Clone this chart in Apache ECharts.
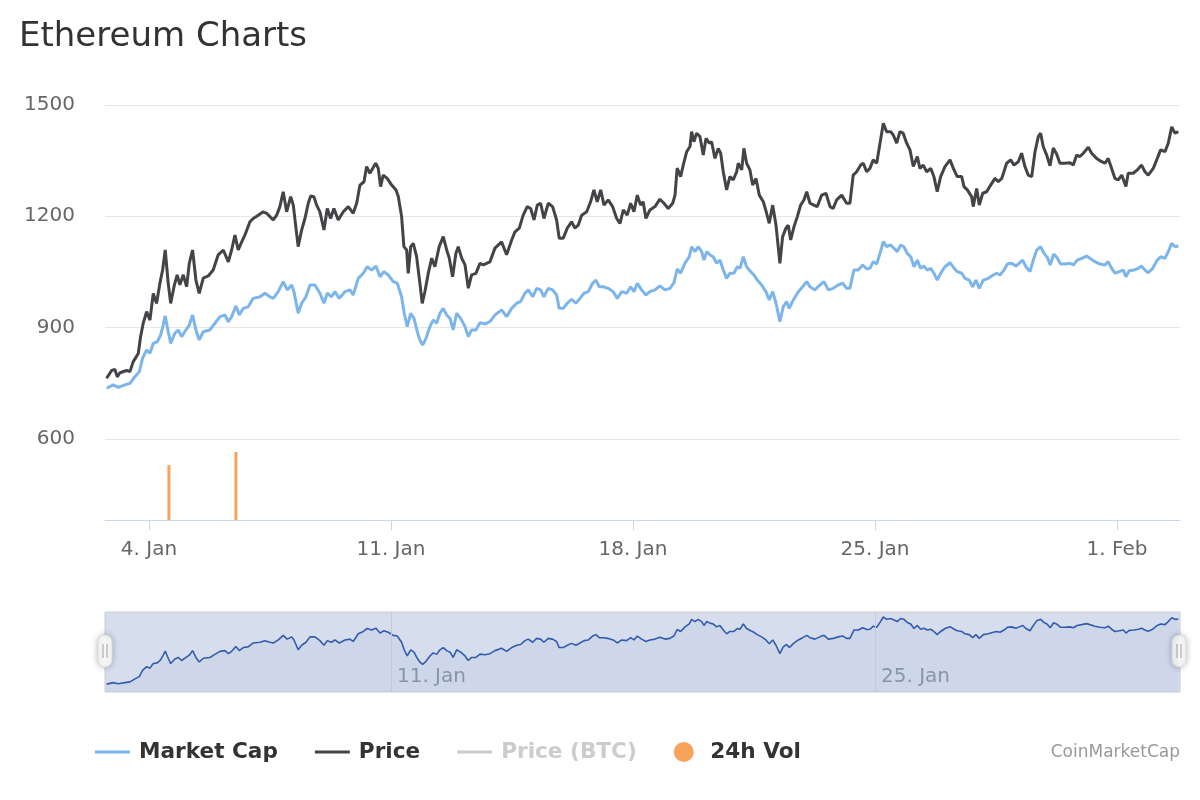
<!DOCTYPE html>
<html><head><meta charset="utf-8">
<script src="https://cdn.jsdelivr.net/npm/echarts@6/dist/echarts.min.js"></script>
<style>html,body{margin:0;padding:0;background:#fff}#chart{width:1200px;height:800px}</style>
</head><body><div id="chart"></div>
<script>
// Hours relative to 4 Jan 2018 00:00 UTC
const priceHours = [
-29.4,-25.9,-23.6,-22.0,-20.1,-15.5,-13.2,-10.9,-7.4,-5.8,
-4.0,-1.6,0.7,3.0,5.3,7.6,9.5,11.3,13.4,15.1,
17.4,19.6,21.5,23.8,26.2,28.0,30.3,32.6,34.9,37.7,
41.2,44.6,48.1,51.6,55.1,57.4,59.7,62.0,64.4,66.6,
70.1,72.4,75.9,79.3,81.7,84.0,86.3,88.7,90.9,93.2,
95.6,98.4,100.2,103.6,106.0,108.3,110.6,112.3,114.5,116.4,
118.7,121.5,123.8,126.1,128.4,131.4,134.9,138.4,141.8,144.2,
146.5,149.3,151.1,153.4,155.3,157.4,159.2,160.8,162.6,165.4,
168.5,171.5,173.1,175.4,177.0,178.9,180.0,181.7,183.5,185.8,
188.1,189.7,191.6,193.9,196.3,198.5,201.5,204.3,206.7,208.5,
210.8,213.1,214.7,217.1,219.4,221.7,224.0,227.0,229.8,232.1,
236.7,240.2,244.8,248.3,251.8,254.1,257.1,259.8,262.6,265.0,
267.3,269.6,271.9,274.2,277.2,280.2,283.0,284.8,287.6,290.4,
293.4,295.7,298.0,300.4,303.9,306.6,308.9,311.2,313.6,315.9,
318.8,321.9,324.7,327.0,329.3,332.0,334.4,336.7,339.0,341.3,
343.1,345.0,347.8,351.3,354.7,357.5,360.5,363.6,365.2,366.7,
369.1,370.9,373.3,375.6,376.7,378.3,380.2,382.5,384.8,386.7,
389.0,390.6,392.9,395.2,396.9,398.7,401.0,403.3,405.6,408.0,
409.1,411.5,413.0,414.9,417.2,419.1,421.4,423.7,426.5,428.8,
430.6,433.0,435.3,438.0,439.9,442.2,443.8,445.5,447.8,450.1,
452.4,454.7,456.6,458.9,461.6,463.9,467.0,470.0,472.8,475.0,
477.4,480.9,484.3,486.6,488.9,491.3,494.1,495.9,498.2,500.5,
502.8,505.2,507.5,509.8,512.1,514.9,516.7,519.1,521.3,523.6,
526.0,528.3,530.6,533.4,535.2,537.5,539.9,542.7,544.9,547.2,
549.6,552.6,556.1,558.4,561.1,564.2,565.8,568.1,571.1,572.2,
574.6,576.4,578.8,581.5,584.3,587.3,589.6,592.0,595.4,598.2,
600.5,603.5,605.8,608.1,610.4,612.8,615.1,617.4,619.0,620.8,
623.2,625.5,627.8,630.1,632.4,635.9,639.4,641.7,644.0,646.3,
648.6,652.1,654.4,657.9,661.4,663.7,665.9,668.3,670.6,672.9,
675.3,678.2,679.8,683.3,686.1,689.1,691.4,693.7,697.2,700.0,
702.3,705.3,707.6,710.0,712.3,714.6
];
const priceValues = [
763,784,787,767,778,784,781,808,830,875,
911,943,920,992,965,1019,1055,1109,1019,965,
1010,1042,1015,1042,1010,1073,1109,1028,992,1033,
1039,1055,1096,1109,1077,1109,1149,1109,1131,1149,
1185,1194,1203,1212,1208,1199,1190,1203,1226,1266,
1212,1253,1230,1118,1163,1194,1235,1255,1253,1230,
1212,1163,1221,1194,1221,1190,1212,1226,1208,1235,
1284,1293,1334,1316,1329,1343,1329,1280,1311,1302,
1284,1271,1253,1199,1118,1109,1046,1118,1127,1091,
1019,965,997,1046,1087,1064,1118,1145,1109,1087,
1037,1100,1118,1087,1069,1006,1042,1046,1073,1069,
1077,1114,1131,1096,1136,1158,1168,1203,1226,1221,
1190,1230,1235,1194,1235,1226,1190,1141,1141,1168,
1185,1168,1176,1203,1212,1239,1271,1239,1271,1230,
1244,1226,1194,1181,1217,1203,1235,1212,1257,1230,
1239,1194,1217,1226,1246,1235,1221,1235,1257,1330,
1307,1338,1374,1388,1428,1401,1424,1415,1365,1410,
1397,1401,1356,1383,1370,1320,1271,1307,1298,1320,
1343,1325,1383,1343,1325,1284,1302,1257,1239,1208,
1181,1230,1176,1073,1145,1168,1176,1136,1172,1199,
1230,1244,1266,1235,1230,1226,1257,1262,1226,1221,
1244,1257,1235,1235,1311,1320,1338,1343,1320,1329,
1352,1343,1397,1451,1428,1428,1419,1397,1428,1424,
1397,1379,1334,1361,1329,1338,1320,1329,1307,1266,
1307,1334,1352,1329,1307,1307,1280,1271,1253,1226,
1275,1230,1262,1266,1284,1302,1293,1302,1343,1352,
1338,1347,1370,1334,1311,1307,1374,1415,1424,1388,
1365,1336,1384,1368,1343,1343,1344,1338,1365,1361,
1370,1386,1370,1356,1347,1343,1356,1329,1302,1298,
1311,1280,1316,1316,1325,1338,1320,1311,1329,1356,
1379,1374,1397,1441,1424,1428
];
// Market cap, billions USD
const capHours = [
-29.4,-24.8,-21.3,-16.7,-13.2,-9.7,-6.7,-4.4,-1.6,0.7,
3.0,5.8,8.1,9.9,11.3,13.4,15.1,18.0,20.3,22.7,
25.7,28.0,30.3,32.6,34.9,37.7,42.3,45.8,49.3,52.8,
55.1,57.4,60.4,62.7,65.5,68.9,72.4,77.1,80.5,84.0,
86.3,89.8,93.2,96.0,99.1,100.7,103.6,106.0,109.0,111.8,
115.2,118.7,121.5,123.8,126.8,129.1,132.1,136.1,139.5,141.8,
145.3,148.8,151.5,154.6,157.6,160.4,163.1,166.1,169.6,172.4,
175.4,177.2,179.3,181.7,184.0,186.3,188.1,190.0,192.3,195.1,
197.4,199.7,202.0,204.3,206.7,209.0,211.2,213.6,216.4,219.4,
221.7,224.0,227.0,229.8,233.3,236.7,240.2,244.8,248.3,251.8,
255.3,258.0,261.0,263.3,266.4,269.1,271.9,274.2,277.2,280.2,
283.0,284.8,287.6,290.4,293.4,296.4,299.2,302.0,305.0,308.0,
310.3,312.6,315.4,318.8,322.3,325.1,328.2,331.6,334.4,336.7,
339.0,342.0,345.0,347.8,351.3,354.7,358.2,361.7,364.5,366.7,
369.1,372.1,375.1,376.7,379.0,381.3,383.7,385.3,387.2,389.5,
391.7,394.1,396.4,398.7,401.0,403.3,406.1,408.4,410.3,412.6,
414.9,417.7,420.0,422.3,425.3,428.3,430.6,433.0,435.3,438.0,
440.3,442.7,444.5,447.3,450.8,453.8,456.6,458.9,462.3,465.8,
468.6,471.6,475.0,478.5,481.6,484.3,486.6,489.4,492.4,495.5,
498.4,500.5,502.8,505.2,507.5,509.8,512.1,514.9,517.2,519.5,
521.8,524.1,526.4,528.8,531.1,533.4,535.7,538.0,540.3,542.7,
544.9,547.2,549.6,552.6,556.1,558.4,561.1,564.2,566.5,569.4,
571.8,574.1,576.4,579.2,582.7,586.1,588.5,590.8,593.6,595.9,
598.9,601.9,604.2,606.5,608.8,611.6,613.9,616.3,619.0,621.3,
623.6,625.7,628.0,630.3,632.9,635.9,639.4,641.7,644.4,647.5,
650.9,653.2,656.7,660.2,663.7,665.9,668.3,670.6,673.6,676.4,
678.2,680.5,683.8,686.8,689.1,691.4,693.7,696.8,700.0,702.3,
705.3,707.6,710.0,712.3,714.6
];
const capValues = [
72.7,74.2,73.1,74.2,74.9,77.9,80.1,86.2,89.9,88.4,
92.9,93.6,96.6,101.1,105.2,98.1,92.9,97.4,98.9,95.9,
98.9,101.1,105.6,98.9,94.4,98.1,98.9,101.9,104.9,105.6,
102.6,104.9,109.7,105.6,108.6,109.3,113.1,113.8,115.4,113.8,
113.1,116.1,120.6,116.9,119.1,116.0,106.4,110.9,113.8,119.1,
119.1,115.4,110.9,115.4,113.8,116.1,113.1,116.1,116.9,114.6,
122.1,124.4,127.3,125.8,127.6,122.8,125.1,123.6,120.6,119.9,
113.8,106.4,100.4,106.4,104.1,98.1,94.4,92.1,95.1,100.4,
103.4,101.9,106.4,108.6,105.6,104.1,98.9,106.4,104.1,100.4,
95.9,98.9,98.9,102.2,101.6,102.6,105.6,107.9,104.9,108.6,
110.9,111.6,115.4,116.9,113.8,117.6,116.9,113.8,117.6,116.9,
114.6,108.6,108.6,110.9,112.7,110.9,113.1,115.4,116.1,119.9,
121.3,118.3,118.3,117.6,116.1,113.1,116.1,115.4,118.3,116.1,
119.9,116.9,114.6,116.1,116.9,118.7,116.9,117.6,120.2,126.3,
124.4,128.9,131.8,136.3,134.1,136.3,134.1,130.3,134.1,132.6,
131.8,128.9,130.3,125.8,122.1,124.4,124.4,127.3,126.6,131.8,
127.3,125.1,123.6,121.3,119.1,116.1,112.4,116.1,110.9,102.6,
109.3,111.6,108.6,112.4,116.1,118.3,120.6,118.3,116.9,119.1,
120.6,116.9,117.6,119.1,119.9,117.6,117.6,125.8,125.8,128.1,
126.3,126.6,129.6,128.5,133.3,138.6,136.3,137.1,135.6,134.1,
137.1,136.3,133.3,131.8,127.3,130.3,126.6,127.6,125.8,126.6,
124.4,121.3,124.4,127.3,129.1,127.1,125.1,124.4,122.1,121.3,
118.3,121.3,117.6,121.3,122.1,123.6,124.4,123.6,125.8,128.5,
128.9,127.6,128.9,130.3,127.3,125.1,130.3,134.8,136.3,133.3,
131.5,128.1,133.0,131.5,128.5,128.5,128.9,128.1,130.3,131.1,
132.1,131.1,129.6,128.5,128.1,129.6,126.6,124.4,125.1,125.8,
122.8,125.5,125.8,126.6,127.6,125.8,124.6,126.6,130.3,131.8,
131.1,134.1,137.8,136.3,136.6
];
// 24h volume, billions USD
const volHours = [13.9, 60.4];
const volValues = [3.44, 4.25];

const tickDates = ['2018-01-04','2018-01-11','2018-01-18','2018-01-25','2018-02-01'];
const navTickDates = ['2018-01-11','2018-01-25'];
const rangeStart = '2018-01-02T17:30:00Z';
const rangeEnd = '2018-02-02T19:45:00Z';
const monthNames = ['Jan','Feb','Mar','Apr','May','Jun','Jul','Aug','Sep','Oct','Nov','Dec'];

const BASE = Date.UTC(2018, 0, 4);
const toTime = h => BASE + h * 3600000;
const dayTs = s => Date.parse(s + 'T00:00:00Z');
const fmt = v => { const d = new Date(v); return d.getUTCDate() + '. ' + monthNames[d.getUTCMonth()]; };
const xMin = Date.parse(rangeStart), xMax = Date.parse(rangeEnd);
const tickTimes = tickDates.map(dayTs);
const navTimes = navTickDates.map(dayTs);

const capData = capHours.map((h, i) => [toTime(h), capValues[i]]);
const priceData = priceHours.map((h, i) => [toTime(h), priceValues[i]]);
const volData = volHours.map((h, i) => [toTime(h), volValues[i]]);

const FONT = 'DejaVu Sans';
const lineIcon = 'path://M0,0H35V3H0Z';

const chart = echarts.init(document.getElementById('chart'), null, {renderer: 'canvas'});
const handle = (x) => ({
  type: 'group', x: x, y: 651, z: 100,
  children: [
    {type: 'rect', shape: {x: -7, y: -16, width: 14, height: 32, r: 7},
     style: {fill: '#f8f8f8', stroke: '#dcdcdc', lineWidth: 1, shadowBlur: 6, shadowColor: 'rgba(0,0,0,0.25)'}},
    {type: 'line', shape: {x1: -2, y1: -7, x2: -2, y2: 7}, style: {stroke: '#a0a0a0', lineWidth: 1}},
    {type: 'line', shape: {x1: 2, y1: -7, x2: 2, y2: 7}, style: {stroke: '#a0a0a0', lineWidth: 1}}
  ]
});

chart.setOption({
  animation: false,
  backgroundColor: '#ffffff',
  title: [
    {text: 'Ethereum Charts', left: 19, top: 20, padding: 0,
     textStyle: {fontSize: 34, fontWeight: 'normal', color: '#333333', fontFamily: FONT}},
    {text: 'CoinMarketCap', right: 20, top: 744, padding: 0,
     textStyle: {fontSize: 17, fontWeight: 'normal', color: '#999999', fontFamily: FONT}}
  ],
  legend: {
    left: 95, top: 741, padding: 0, itemWidth: 35, itemHeight: 20, itemGap: 37,
    data: [
      {name: 'Market Cap', icon: lineIcon},
      {name: 'Price', icon: lineIcon},
      {name: 'Price (BTC)', icon: lineIcon},
      {name: '24h Vol', icon: 'circle'}
    ],
    selected: {'Price (BTC)': false},
    inactiveColor: '#cccccc',
    textStyle: {fontSize: 21.6, fontWeight: 'bold', color: '#333333', fontFamily: FONT, padding: [0, 0, 0, 4]}
  },
  grid: [
    {left: 105, right: 20, top: 105, height: 445},
    {left: 105, right: 20, top: 440, height: 80},
    {left: 105, right: 20, top: 612, height: 80, show: true,
     backgroundColor: 'rgba(102,133,194,0.27)', borderColor: '#cccccc', borderWidth: 1}
  ],
  xAxis: [
    {gridIndex: 0, type: 'value', min: xMin, max: xMax, show: false, splitLine: {show: false}},
    {gridIndex: 1, type: 'value', min: xMin, max: xMax,
     axisLine: {show: true, lineStyle: {color: '#ccd6eb', width: 1}},
     axisTick: {show: true, customValues: tickTimes, length: 10, lineStyle: {color: '#ccd6eb'}},
     axisLabel: {customValues: tickTimes, formatter: fmt, color: '#666666', fontSize: 20, fontFamily: FONT, margin: 20},
     splitLine: {show: false}},
    {gridIndex: 2, type: 'value', min: xMin, max: xMax,
     axisLine: {show: false}, axisTick: {show: false}, splitLine: {show: false},
     axisLabel: {customValues: navTimes, formatter: fmt, inside: true, align: 'left',
       color: '#8f97a8', fontSize: 20, fontFamily: FONT, margin: 5, padding: [0, 0, 0, 6]}}
  ],
  yAxis: [
    {gridIndex: 0, type: 'value', min: 300, max: 1500, interval: 300, position: 'left',
     axisLine: {show: false}, axisTick: {show: false},
     axisLabel: {showMinLabel: false, formatter: v => String(v), color: '#666666', fontSize: 20, fontFamily: FONT, margin: 30,
       verticalAlign: 'middle', padding: [0, 0, 5, 0]},
     splitLine: {show: true, lineStyle: {color: ['rgba(0,0,0,0)', '#e6e6e6', '#e6e6e6', '#e6e6e6', '#e6e6e6'], width: 1}}},
    {gridIndex: 0, type: 'value', min: 0, max: 200, show: false, splitLine: {show: false}},
    {gridIndex: 1, type: 'value', min: 0, max: 5, show: false, splitLine: {show: false}},
    {gridIndex: 2, type: 'value', min: 65, max: 143.5, show: false, splitLine: {show: false}}
  ],
  series: [
    {name: 'Market Cap', type: 'line', xAxisIndex: 0, yAxisIndex: 1, data: capData,
     showSymbol: false, lineStyle: {color: '#7cb5ec', width: 3}, itemStyle: {color: '#7cb5ec'}, z: 3},
    {name: 'Price', type: 'line', xAxisIndex: 0, yAxisIndex: 0, data: priceData,
     showSymbol: false, lineStyle: {color: '#434348', width: 3}, itemStyle: {color: '#434348'}, z: 3},
    {name: 'Price (BTC)', type: 'line', xAxisIndex: 0, yAxisIndex: 0, data: [],
     showSymbol: false, lineStyle: {color: '#90ed7d', width: 2}, itemStyle: {color: '#90ed7d'}},
    {name: '24h Vol', type: 'bar', xAxisIndex: 1, yAxisIndex: 2, data: volData,
     barWidth: 3, itemStyle: {color: '#f7a35c'}},
    {name: 'Navigator', type: 'line', xAxisIndex: 2, yAxisIndex: 3, data: capData,
     showSymbol: false, lineStyle: {color: '#335cad', width: 1.6},
     areaStyle: {color: '#335cad', opacity: 0.05}, silent: true,
     markLine: {silent: true, symbol: ['none', 'none'], label: {show: false},
       lineStyle: {color: '#c2c9d8', type: 'solid', width: 1},
       data: navTimes.map(t => ({xAxis: t}))}}
  ],
  graphic: [handle(105), handle(1179)]
});
</script>
</body></html>
